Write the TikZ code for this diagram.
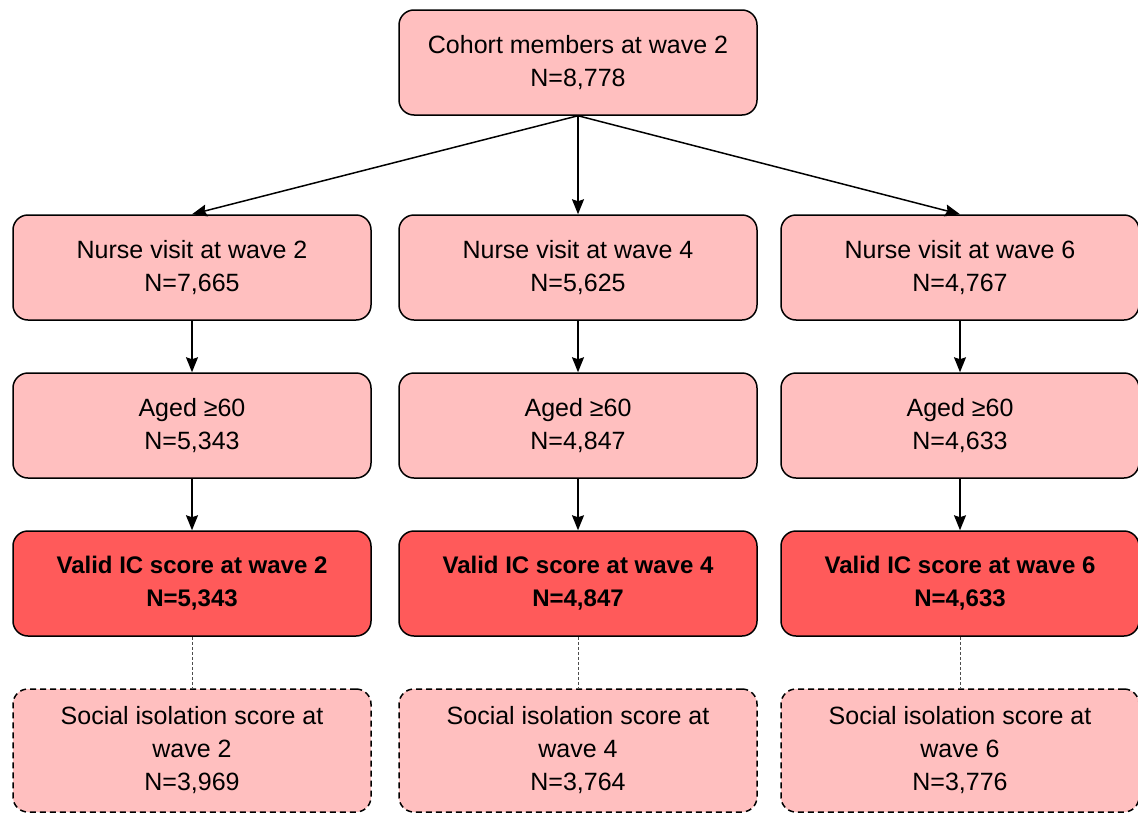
\documentclass[tikz,border=0pt]{standalone}
\usepackage{fontspec}
\setmainfont{Liberation Sans}
\usetikzlibrary{positioning,arrows.meta}
\definecolor{boxpink}{RGB}{255,191,191}
\definecolor{boxred}{RGB}{255,90,90}
\begin{document}
\begin{tikzpicture}[
x=1pt, y=1pt,
font=\fontsize{25}{33}\selectfont,
pinkbox/.style={rectangle, rounded corners=15pt, draw=black, fill=boxpink, line width=1.5pt, minimum width=358pt, minimum height=105pt, align=center, inner sep=0pt},
redbox/.style={pinkbox, fill=boxred, font=\fontsize{24}{33}\selectfont\bfseries},
dashbox/.style={pinkbox, dash pattern=on 6pt off 4pt, minimum height=123pt},
arrow/.style={-{Stealth[length=15pt,width=12pt,inset=2pt]}, line width=1.5pt},
dashline/.style={dash pattern=on 3pt off 2pt, draw=black!70, line width=0.9pt},
node distance=51.5pt,
]
    \useasboundingbox (0,0) rectangle (1138,-814);
    \node[pinkbox] (cohort) at (578,-62.5) {Cohort members at wave 2\\N=8,778};
    % wave 2 column
    \node[pinkbox] (nurse2) at (192,-267.5) {Nurse visit at wave 2\\N=7,665};
    \node[pinkbox] (aged2) [below=of nurse2] {Aged ≥60\\ N=5,343};
    \node[redbox] (ic2) [below=of aged2] {Valid IC score at wave 2\\N=5,343};
    \node[dashbox] (social2) [below=of ic2] {Social isolation score at\\wave 2\\N=3,969};
    % wave 4 column
    \node[pinkbox] (nurse4) at (578,-267.5) {Nurse visit at wave 4\\N=5,625};
    \node[pinkbox] (aged4) [below=of nurse4] {Aged ≥60\\N=4,847};
    \node[redbox] (ic4) [below=of aged4] {Valid IC score at wave 4\\N=4,847};
    \node[dashbox] (social4) [below=of ic4] {Social isolation score at\\wave 4\\N=3,764};
    % wave 6 column
    \node[pinkbox] (nurse6) at (960,-267.5) {Nurse visit at wave 6\\N=4,767};
    \node[pinkbox] (aged6) [below=of nurse6] {Aged ≥60\\N=4,633};
    \node[redbox] (ic6) [below=of aged6] {Valid IC score at wave 6\\N=4,633};
    \node[dashbox] (social6) [below=of ic6] {Social isolation score at\\wave 6\\N=3,776};
    \draw[arrow] (cohort.south) -- (nurse2.north);
    \draw[arrow] (cohort.south) -- (nurse4.north);
    \draw[arrow] (cohort.south) -- (nurse6.north);
    \draw[arrow] (nurse2) -- (aged2);
    \draw[arrow] (aged2) -- (ic2);
    \draw[dashline] (ic2) -- (social2);
    \draw[arrow] (nurse4) -- (aged4);
    \draw[arrow] (aged4) -- (ic4);
    \draw[dashline] (ic4) -- (social4);
    \draw[arrow] (nurse6) -- (aged6);
    \draw[arrow] (aged6) -- (ic6);
    \draw[dashline] (ic6) -- (social6);
  \end{tikzpicture}
\end{document}
